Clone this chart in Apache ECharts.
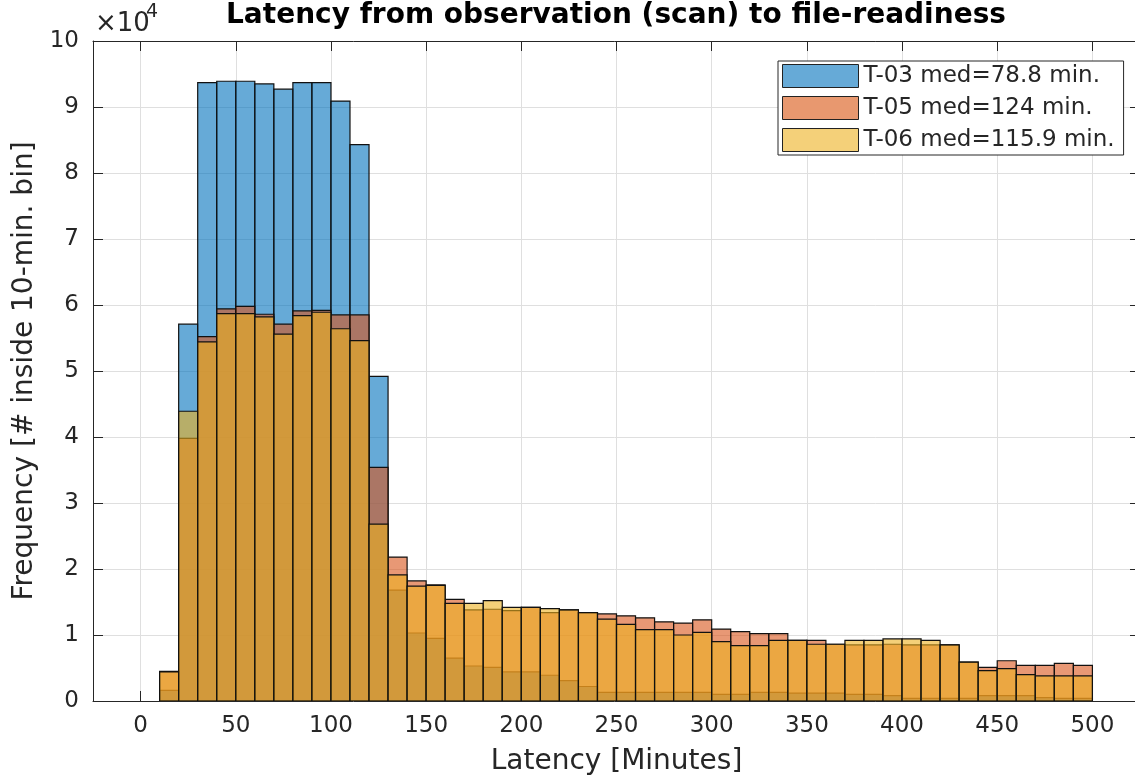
<!DOCTYPE html>
<html>
<head>
<meta charset="utf-8">
<title>Latency histogram</title>
<script src="https://cdn.jsdelivr.net/npm/echarts@6/dist/echarts.min.js"></script>
<style>
    html, body { margin: 0; padding: 0; background: #fff; }
    #chart { width: 1135px; height: 778px; }
</style>
</head>
<body>
<div id="chart"></div>
<script>
// left edge of each 10-minute bin
var binStarts = [10, 20, 30, 40, 50, 60, 70, 80, 90, 100, 110, 120, 130, 140, 150, 160, 170, 180, 190, 200,
    210, 220, 230, 240, 250, 260, 270, 280, 290, 300, 310, 320, 330, 340, 350, 360, 370, 380, 390, 400,
    410, 420, 430, 440, 450, 460, 470, 480, 490];
var binWidth = 10;

var t03Counts = [1600, 57100, 93700, 93900, 93900, 93500, 92700, 93700, 93700, 90900,
    84300, 49200, 16800, 10300, 9500, 6500, 5300, 5100, 4400, 4400,
    3900, 3100, 2200, 1300, 1300, 1300, 1300, 1300, 1300, 1000,
    1000, 1300, 1300, 1200, 1200, 1200, 1000, 1000, 800, 400,
    400, 400, 400, 800, 800, 800, 500, 400, 400];

var t05Counts = [4500, 39800, 55200, 59400, 59800, 58600, 57100, 59100, 59200, 58500,
    58500, 35400, 21800, 18200, 17600, 15400, 13800, 13900, 13700, 14200,
    13400, 13800, 13400, 13200, 12900, 12600, 12000, 11800, 12300, 10900,
    10500, 10200, 10200, 9200, 9200, 8600, 8500, 8500, 8600, 8500,
    8500, 8500, 5900, 5100, 6100, 5400, 5400, 5700, 5400];

var t06Counts = [4400, 43900, 54400, 58700, 58700, 58200, 55600, 58400, 58900, 56400,
    54600, 26800, 19100, 17400, 17500, 14800, 14800, 15200, 14200, 14200,
    14000, 13800, 13400, 12400, 11600, 10800, 10800, 10000, 10400, 9000,
    8400, 8400, 9200, 9200, 8600, 8600, 9200, 9200, 9400, 9400,
    9200, 8500, 5900, 4600, 4900, 4000, 3800, 3800, 3800];

var seriesNames = ['T-03 med=78.8 min.', 'T-05 med=124 min.', 'T-06 med=115.9 min.'];
var xTicks = [0, 50, 100, 150, 200, 250, 300, 350, 400, 450, 500];

function toBins(counts) {
    return binStarts.map(function (s, i) {
        return [s, s + binWidth, counts[i]];
    });
}

function barRenderer(fill) {
    return function (params, api) {
        var topLeft = api.coord([api.value(0), api.value(2)]);
        var bottomRight = api.coord([api.value(1), 0]);
        return {
            type: 'rect',
            shape: {
                x: topLeft[0],
                y: topLeft[1],
                width: bottomRight[0] - topLeft[0],
                height: bottomRight[1] - topLeft[1]
            },
            style: { fill: fill, stroke: '#111', lineWidth: 1.2 }
        };
    };
}

var chart = echarts.init(document.getElementById('chart'));

var axisText = { color: '#262626', fontFamily: 'DejaVu Sans', fontSize: 23 };

var option = {
    backgroundColor: '#fff',
    animation: false,
    grid: { left: 93, top: 41, width: 1047, height: 660, outerBoundsMode: 'none', containLabel: false },
    graphic: [
        {
            type: 'text', x: 616, y: 2,
            style: { text: 'Latency from observation (scan) to file-readiness', fontFamily: 'DejaVu Sans',
                fontWeight: 'bold', fontSize: 28, fill: '#000', textAlign: 'center' }
        },
        {
            type: 'text', left: 95, top: 11,
            style: { text: '×10', fontFamily: 'DejaVu Sans', fontSize: 26, fill: '#262626' }
        },
        {
            type: 'text', left: 146, top: 3,
            style: { text: '4', fontFamily: 'DejaVu Sans', fontSize: 19, fill: '#262626' }
        }
    ],
    legend: {
        orient: 'vertical',
        left: 778,
        top: 61,
        itemWidth: 76,
        itemHeight: 23,
        itemGap: 8,
        padding: [3, 9, 3, 4],
        backgroundColor: '#fff',
        borderColor: '#262626',
        borderWidth: 1,
        borderRadius: 0,
        textStyle: { color: '#262626', fontFamily: 'DejaVu Sans', fontSize: 23 },
        data: [
            { name: seriesNames[0], icon: 'rect', itemStyle: { color: '#66aad7', borderColor: '#222', borderWidth: 1 } },
            { name: seriesNames[1], icon: 'rect', itemStyle: { color: '#e8986f', borderColor: '#222', borderWidth: 1 } },
            { name: seriesNames[2], icon: 'rect', itemStyle: { color: '#f4d079', borderColor: '#222', borderWidth: 1 } }
        ]
    },
    xAxis: [
        {
            type: 'value', min: -25, max: 525,
            name: 'Latency [Minutes]', nameLocation: 'middle', nameGap: 47,
            nameTextStyle: { color: '#262626', fontFamily: 'DejaVu Sans', fontSize: 28 },
            axisLine: { onZero: false, lineStyle: { color: '#262626' } },
            axisTick: { inside: true, length: 10, customValues: xTicks, lineStyle: { color: '#262626' } },
            axisLabel: Object.assign({ customValues: xTicks, margin: 14 }, axisText),
            splitLine: { show: true, lineStyle: { color: '#dfdfdf' } }
        },
        {
            type: 'value', min: -25, max: 525, position: 'top',
            axisLine: { onZero: false, lineStyle: { color: '#262626' } },
            axisTick: { inside: true, length: 10, customValues: xTicks, lineStyle: { color: '#262626' } },
            axisLabel: { show: false },
            splitLine: { show: false }
        }
    ],
    yAxis: [
        {
            type: 'value', min: 0, max: 100000, interval: 10000, position: 'left',
            name: 'Frequency [# inside 10-min. bin]', nameLocation: 'middle', nameGap: 52,
            nameTextStyle: { color: '#262626', fontFamily: 'DejaVu Sans', fontSize: 28 },
            axisLine: { show: true, onZero: false, lineStyle: { color: '#262626' } },
            axisTick: { show: true, inside: true, length: 10, lineStyle: { color: '#262626' } },
            axisLabel: Object.assign({
                margin: 14,
                formatter: function (v) { return String(v / 10000); }
            }, axisText),
            splitLine: { show: true, lineStyle: { color: '#dfdfdf' } }
        },
        {
            type: 'value', min: 0, max: 100000, interval: 10000, position: 'right',
            axisLine: { show: true, onZero: false, lineStyle: { color: '#262626' } },
            axisTick: { show: true, inside: true, length: 10, lineStyle: { color: '#262626' } },
            axisLabel: { show: false },
            splitLine: { show: false }
        }
    ],
    series: [
        {
            name: seriesNames[0], type: 'custom', renderItem: barRenderer('rgba(0,114,189,0.6)'),
            itemStyle: { color: '#66aad7' },
            encode: { x: [0, 1], y: 2 }, data: toBins(t03Counts), clip: true
        },
        {
            name: seriesNames[1], type: 'custom', renderItem: barRenderer('rgba(217,83,25,0.6)'),
            itemStyle: { color: '#e8986f' },
            encode: { x: [0, 1], y: 2 }, data: toBins(t05Counts), clip: true
        },
        {
            name: seriesNames[2], type: 'custom', renderItem: barRenderer('rgba(237,177,32,0.6)'),
            itemStyle: { color: '#f4d079' },
            encode: { x: [0, 1], y: 2 }, data: toBins(t06Counts), clip: true
        }
    ]
};

chart.setOption(option);
</script>
</body>
</html>
